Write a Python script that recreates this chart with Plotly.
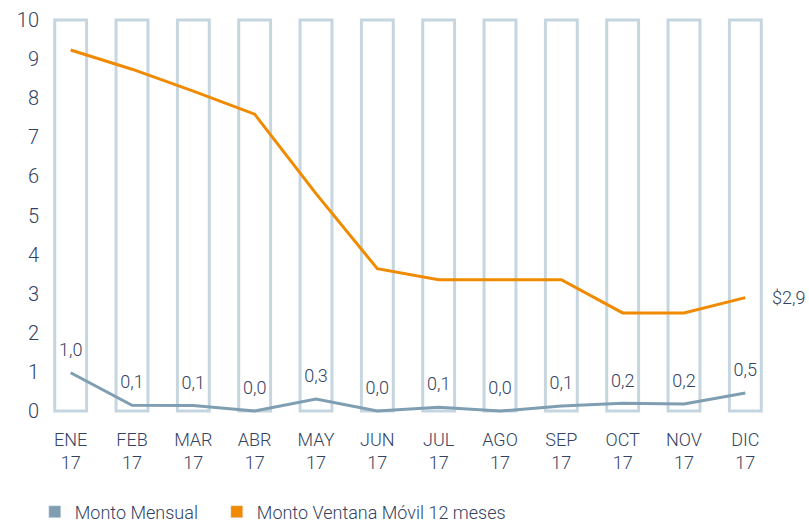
import plotly.graph_objects as go

# Data
months = ["ENE<br>17", "FEB<br>17", "MAR<br>17", "ABR<br>17", "MAY<br>17", "JUN<br>17",
          "JUL<br>17", "AGO<br>17", "SEP<br>17", "OCT<br>17", "NOV<br>17", "DIC<br>17"]
monto_mensual = [0.98, 0.15, 0.14, 0.0, 0.31, 0.0, 0.1, 0.0, 0.13, 0.2, 0.18, 0.46]
mensual_labels = ["1,0", "0,1", "0,1", "0,0", "0,3", "0,0", "0,1", "0,0", "0,1", "0,2", "0,2", "0,5"]
monto_ventana = [9.23, 8.74, 8.18, 7.59, 5.56, 3.64, 3.36, 3.36, 3.36, 2.51, 2.51, 2.9]
column_frame = [10] * 12
y_ticks = list(range(0, 11))

FONT = "Roboto, 'Liberation Sans', sans-serif"
TEXT_COLOR = "#33435F"
ORANGE = "#F08A00"
GREY_BLUE = "#7F9EB2"
FRAME_COLOR = "#C6D6E1"

fig = go.Figure()

# Outlined background columns
fig.add_trace(go.Bar(
    x=months, y=column_frame, width=0.52,
    marker=dict(color="white", line=dict(color=FRAME_COLOR, width=3)),
    showlegend=False, hoverinfo="skip",
))

fig.add_trace(go.Scatter(
    x=months, y=monto_ventana, mode="lines",
    line=dict(color=ORANGE, width=3),
    showlegend=False,
))

# invisible markers push the value labels a little above the line
fig.add_trace(go.Scatter(
    x=months, y=monto_mensual, mode="lines+markers+text",
    line=dict(color=GREY_BLUE, width=3),
    marker=dict(size=18, color="rgba(0,0,0,0)"),
    text=mensual_labels, textposition="top center",
    textfont=dict(size=18, color=TEXT_COLOR, family=FONT, weight=300),
    showlegend=False,
))

# Legend entries with square swatches (two legends to control spacing)
fig.add_trace(go.Bar(x=[None], y=[None], name="Monto Mensual", marker_color=GREY_BLUE))
fig.add_trace(go.Bar(x=[None], y=[None], name="Monto Ventana Móvil 12 meses",
                     marker_color=ORANGE, legend="legend2"))

fig.add_annotation(
    x=len(months) - 1, y=monto_ventana[-1],
    text="$" + f"{monto_ventana[-1]:.1f}".replace(".", ","),
    showarrow=False, xshift=43,
    font=dict(size=18, color=TEXT_COLOR, family=FONT, weight=300),
)

legend_style = dict(orientation="h", xref="container", yref="container",
                    y=0.021, yanchor="middle", xanchor="left",
                    font=dict(size=18, color=TEXT_COLOR, weight=300))

fig.update_layout(
    width=809, height=523,
    margin=dict(l=40, r=33, t=16, b=108, autoexpand=False),
    paper_bgcolor="white", plot_bgcolor="white",
    barmode="overlay",
    font=dict(family=FONT, color=TEXT_COLOR, size=17, weight=300),
    showlegend=True,
    legend=dict(x=0.043, **legend_style),
    legend2=dict(x=0.268, **legend_style),
)
fig.update_xaxes(
    range=[-0.5, len(months) - 0.5],
    showgrid=False, zeroline=False, showline=False, automargin=False,
    ticks="outside", ticklen=8, tickcolor="rgba(0,0,0,0)",
    tickfont=dict(size=18, color=TEXT_COLOR, weight=300),
)
fig.update_yaxes(
    range=[-0.1, 10.1], tickvals=y_ticks, automargin=False,
    showgrid=False, zeroline=False, showline=False,
    tickfont=dict(size=20, color=TEXT_COLOR, weight=300),
)

# drop the default 8px body margin so the figure fills the window exactly
fig.write_html("out.html", config={"displayModeBar": False},
               post_script="document.body.style.margin = '0';")
